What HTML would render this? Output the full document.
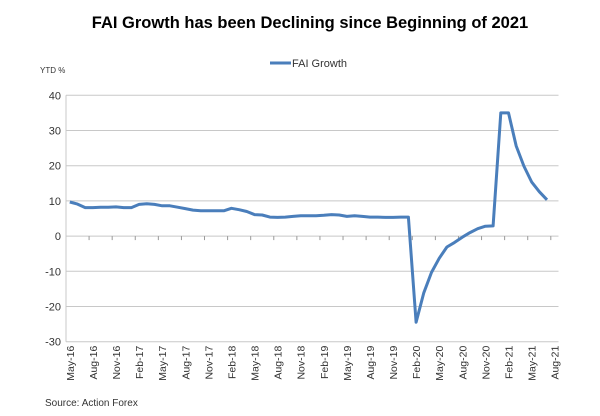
<!DOCTYPE html>
<html><head><meta charset="utf-8"><style>
body{margin:0;background:#fff;font-family:"Liberation Sans",Arial,sans-serif}
svg{display:block}
</style></head><body>
<svg id="chart" width="600" height="416" xmlns="http://www.w3.org/2000/svg">
<text x="310" y="28" text-anchor="middle" font-size="16.5" font-weight="bold" fill="#000">FAI Growth has been Declining since Beginning of 2021</text>
<g>
<line x1="270" y1="63" x2="291" y2="63" stroke="#4a7ebb" stroke-width="3"/>
<text x="292" y="67" font-size="11" fill="#333">FAI Growth</text>
</g>
<text x="40" y="73" font-size="8" fill="#333">YTD %</text>
<g id="grid"></g><g id="yticks"></g><g id="xticks"></g>
<path id="line" fill="none" stroke="#4a7ebb" stroke-width="3" stroke-linejoin="round"/>
<text x="45" y="406" font-size="10" fill="#333">Source: Action Forex</text>
</svg>
<script>
const yTicks=[40,30,20,10,0,-10,-20,-30];
const xLabels=["May-16","Aug-16","Nov-16","Feb-17","May-17","Aug-17","Nov-17","Feb-18","May-18","Aug-18","Nov-18","Feb-19","May-19","Aug-19","Nov-19","Feb-20","May-20","Aug-20","Nov-20","Feb-21","May-21","Aug-21"];
const values=[9.7,9.1,8.1,8.1,8.2,8.2,8.3,8.1,8.1,9.0,9.2,9.0,8.6,8.6,8.2,7.8,7.4,7.2,7.2,7.2,7.2,7.9,7.5,7.0,6.1,6.0,5.4,5.3,5.4,5.6,5.8,5.8,5.8,5.9,6.1,6.0,5.6,5.8,5.6,5.4,5.4,5.3,5.3,5.4,5.4,-24.5,-16.1,-10.3,-6.3,-3.1,-1.8,-0.3,1.0,2.1,2.8,2.9,35.0,35.0,25.6,19.9,15.4,12.6,10.3];
const nCat=64;
const X0=66,X1=558.5,Y40=95.3,Ym30=341.7;
const step=(X1-X0)/nCat;
const xs=i=>X0+step*(i+0.5);
const ys=v=>Y40+(40-v)*(Ym30-Y40)/70;
const NS="http://www.w3.org/2000/svg";
const grid=document.getElementById('grid'),yt=document.getElementById('yticks'),xt=document.getElementById('xticks');
yTicks.forEach(v=>{
 const l=document.createElementNS(NS,'line');
 l.setAttribute('x1',X0);l.setAttribute('x2',X1);l.setAttribute('y1',ys(v));l.setAttribute('y2',ys(v));
 l.setAttribute('stroke','#c8c8c8');l.setAttribute('stroke-width','1');
 
 
 grid.appendChild(l);
 const t=document.createElementNS(NS,'text');
 t.setAttribute('x',X0-5);t.setAttribute('y',ys(v)+4);t.setAttribute('text-anchor','end');
 t.setAttribute('font-size','11');t.setAttribute('fill','#333');t.textContent=v;
 
 
 yt.appendChild(t);
});
const ax=document.createElementNS(NS,'line');
ax.setAttribute('x1',X0);ax.setAttribute('x2',X0);ax.setAttribute('y1',Y40);ax.setAttribute('y2',Ym30);
ax.setAttribute('stroke','#c8c8c8');


grid.appendChild(ax);
xLabels.forEach((s,k)=>{
 const i=k*3;
 const tk=document.createElementNS(NS,'line');
 const tx=X0+step*(i+3);
 tk.setAttribute('x1',tx);tk.setAttribute('x2',tx);tk.setAttribute('y1',ys(0));tk.setAttribute('y2',ys(0)+4);
 tk.setAttribute('stroke','#999');
 
 
 if(k<xLabels.length-1)xt.appendChild(tk);
 const t=document.createElementNS(NS,'text');
 const cx=xs(i)+4,cy=ys(-30)+4;
 t.setAttribute('transform','translate('+cx+','+cy+') rotate(-90)');
 t.setAttribute('text-anchor','end');t.setAttribute('font-size','10.5');t.setAttribute('fill','#333');
 t.textContent=s;
 
 
 xt.appendChild(t);
});
document.getElementById('line').setAttribute('d',values.map((v,i)=>(i?'L':'M')+xs(i).toFixed(1)+' '+ys(v).toFixed(1)).join(' '));
</script>
</body></html>
